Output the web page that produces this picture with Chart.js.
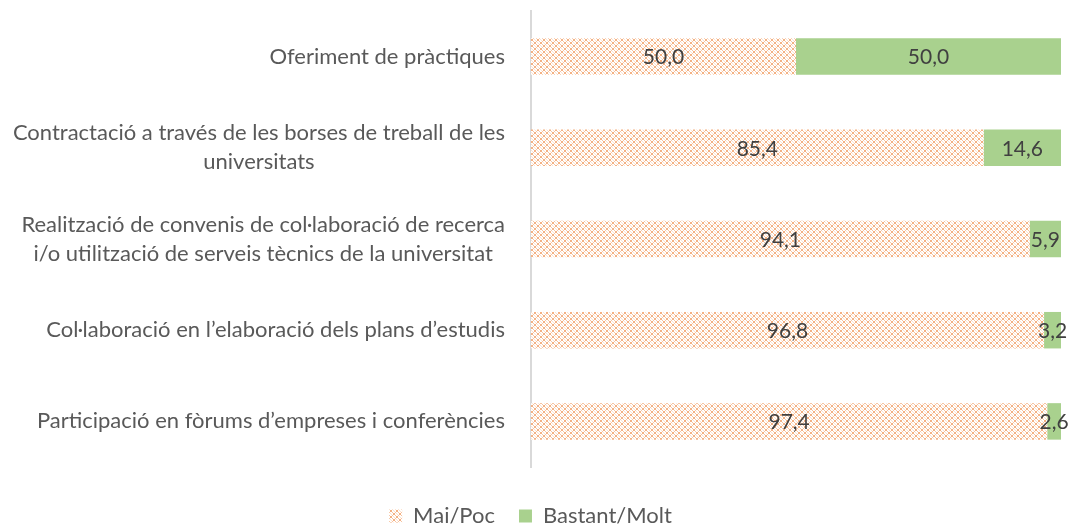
<!DOCTYPE html>
<html>
<head>
<meta charset="utf-8">
<script src="https://cdn.jsdelivr.net/npm/chart.js@4"></script>
<style>
  html, body { margin: 0; padding: 0; background: #fff; }
  #wrap { width: 1070px; height: 528px; }
</style>
</head>
<body>
<div id="wrap"><canvas id="chart"></canvas></div>
<script>
// dades llegides del gràfic original
const categories = [
    ['Oferiment de pràctiques'],
    ['Contractació a través de les borses de treball de les', 'universitats'],
    ['Realització de convenis de col·laboració de recerca', 'i/o utilització de serveis tècnics de la universitat'],
    ['Col·laboració en l’elaboració dels plans d’estudis'],
    ['Participació en fòrums d’empreses i conferències']
];
const seriesNames = ['Mai/Poc', 'Bastant/Molt'];
const maiPoc = [50.0, 85.4, 94.1, 96.8, 97.4];
const bastantMolt = [50.0, 14.6, 5.9, 3.2, 2.6];

const FONT = 'Lato, "Open Sans", sans-serif';

// trama puntejada taronja (com la d'Excel)
function makePattern() {
    const c = document.createElement('canvas');
    c.width = 6; c.height = 6;
    const g = c.getContext('2d');
    g.fillStyle = '#ffffff';
    g.fillRect(0, 0, 6, 6);
    g.fillStyle = '#F4B183';
    g.fillRect(0, 0, 2, 2);
    g.fillRect(3, 3, 2, 2);
    g.fillStyle = '#F7C4A0';
    [[2, 2], [5, 5], [2, 5], [5, 2]].forEach(([x, y]) => g.fillRect(x, y, 1, 1));
    g.fillStyle = '#FBE3D2';
    [[3, 0], [0, 3], [4, 1], [1, 4]].forEach(([x, y]) => g.fillRect(x, y, 1, 1));
    return g.createPattern(c, 'repeat');
}

const fmt = v => v.toFixed(1).replace('.', ',');

// etiquetes dins de les barres
const valueLabels = {
    id: 'valueLabels',
    afterDatasetsDraw(chart) {
        const ctx = chart.ctx;
        ctx.save();
        ctx.font = '21px ' + FONT;
        ctx.fillStyle = '#404040';
        ctx.textAlign = 'center';
        ctx.textBaseline = 'middle';
        chart.data.datasets.forEach((ds, i) => {
            chart.getDatasetMeta(i).data.forEach((bar, j) => {
                const p = bar.getProps(['x', 'y', 'base'], true);
                ctx.fillText(fmt(ds.data[j]), (p.x + p.base) / 2, p.y + 1);
            });
        });
        ctx.restore();
    }
};

// etiquetes de l'eix Y: bloc alineat a la dreta, línies centrades
const catLabels = {
    id: 'catLabels',
    afterDraw(chart) {
        const ctx = chart.ctx;
        const yScale = chart.scales.y;
        const right = 505;
        const lineH = 29;
        ctx.save();
        ctx.font = '22px ' + FONT;
        ctx.fillStyle = '#595959';
        ctx.textAlign = 'center';
        ctx.textBaseline = 'middle';
        chart.data.labels.forEach((lines, i) => {
            const yc = yScale.getPixelForValue(i);
            const maxW = Math.max(...lines.map(l => ctx.measureText(l).width));
            const cx = right - maxW / 2;
            const y0 = yc - (lines.length - 1) * lineH / 2;
            lines.forEach((l, k) => ctx.fillText(l, cx, y0 + k * lineH));
        });
        ctx.restore();
    }
};

// llegenda: alçada fixa i una mica més avall
const legendTweak = {
    id: 'legendTweak',
    beforeLayout(chart) {
        const lg = chart.legend;
        if (lg && !lg._tweaked) {
            const fit = lg.fit;
            lg.fit = function () { fit.call(this); this.height = 61; };
            lg._tweaked = true;
        }
    },
    afterLayout(chart) {
        chart.legend.top += 14;
        chart.legend.bottom += 14;
    }
};

const chart = new Chart(document.getElementById('chart'), {
    type: 'bar',
    data: {
        labels: categories,
        datasets: [
            {
                label: seriesNames[0],
                data: maiPoc,
                backgroundColor: makePattern(),
                borderWidth: 0,
                categoryPercentage: 1,
                barPercentage: 0.4
            },
            {
                label: seriesNames[1],
                data: bastantMolt,
                backgroundColor: '#A9D18E',
                borderWidth: 0,
                categoryPercentage: 1,
                barPercentage: 0.4
            }
        ]
    },
    options: {
        indexAxis: 'y',
        responsive: true,
        maintainAspectRatio: false,
        animation: false,
        layout: { padding: { top: 11, right: 9, left: 0, bottom: 0 } },
        scales: {
            x: { stacked: true, min: 0, max: 100, display: false },
            y: {
                stacked: true,
                grid: { display: false },
                border: { display: true, color: '#D9D9D9', width: 2 },
                ticks: { display: false },
                afterFit(scale) { scale.width = 531; }
            }
        },
        plugins: {
            legend: {
                position: 'bottom',
                labels: {
                    font: { family: FONT, size: 22 },
                    color: '#595959',
                    boxWidth: 13,
                    boxHeight: 13,
                    padding: 24
                }
            },
            tooltip: { enabled: false }
        }
    },
    plugins: [valueLabels, catLabels, legendTweak]
});
</script>
</body>
</html>
